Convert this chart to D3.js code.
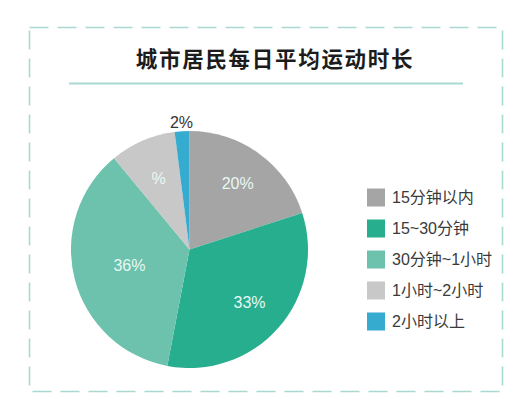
<!DOCTYPE html>
<html lang="zh">
<head>
    <meta charset="UTF-8">
    <title>城市居民每日平均运动时长</title>
    <script src="https://d3js.org/d3.v7.min.js"></script>
    <style>
        body { margin: 0; background: #fff; }
        text { font-family: "Liberation Sans", "Noto Sans CJK SC", sans-serif; }
    </style>
</head>
<body>
    <div id="chart"></div>
    <script>
        // data
        const title = "城市居民每日平均运动时长";
        const categories = ["15分钟以内", "15~30分钟", "30分钟~1小时", "1小时~2小时", "2小时以上"];
        const values = [20, 33, 36, 9, 2];
        const labels = ["20%", "33%", "36%", "%", "2%"];
        const colors = ["#a5a5a5", "#27ae8e", "#6cc2ac", "#c8c8c8", "#36abd0"];

        const W = 531, H = 415;
        const svg = d3.select("#chart").append("svg")
            .attr("width", W).attr("height", H);

        // dashed frame
        svg.append("rect")
            .attr("x", 29.5).attr("y", 27.5)
            .attr("width", 473).attr("height", 364)
            .attr("fill", "none")
            .attr("stroke", "#a9d9d1")
            .attr("stroke-width", 1.6)
            .attr("stroke-dasharray", "19 9");

        svg.append("text")
            .attr("x", 275).attr("y", 67)
            .attr("text-anchor", "middle")
            .style("font-family", "'Noto Sans CJK SC', sans-serif")
            .style("font-weight", "bold")
            .style("font-size", "21.5px")
            .style("letter-spacing", "1.7px")
            .attr("fill", "#1c1c1c")
            .text(title);

        svg.append("line")
            .attr("x1", 69).attr("x2", 463)
            .attr("y1", 83.5).attr("y2", 83.5)
            .attr("stroke", "#a9d9d1")
            .attr("stroke-width", 2);

        // pie
        const cx = 189.5, cy = 249.5, r = 118.5;
        const labelR = [82, 80, 62, 78, 128];   // label distance from centre, per slice
        const pie = d3.pie().sort(null).value(d => d)(values);
        const arc = d3.arc().innerRadius(0).outerRadius(r);

        const g = svg.append("g").attr("transform", `translate(${cx},${cy})`);
        g.selectAll("path").data(pie).join("path")
            .attr("d", arc)
            .attr("fill", (d, i) => colors[i]);

        g.selectAll("text.lbl").data(pie).join("text")
            .attr("class", "lbl")
            .attr("transform", (d, i) => {
                const p = d3.arc().innerRadius(labelR[i]).outerRadius(labelR[i]).centroid(d);
                return `translate(${p})`;
            })
            .attr("text-anchor", "middle")
            .attr("dy", "0.36em")
            .style("font-size", "16px")
            .attr("fill", (d, i) => labelR[i] > r ? "#333" : "#e8f8f3")
            .text((d, i) => labels[i]);

        // legend
        const ly = d3.scaleBand().domain(categories).range([182, 337]).paddingInner(0);
        const leg = svg.append("g").selectAll("g").data(categories).join("g")
            .attr("transform", d => `translate(367,${ly(d) + ly.bandwidth() / 2})`);
        leg.append("rect")
            .attr("x", 0).attr("y", -9)
            .attr("width", 18).attr("height", 18)
            .attr("fill", (d, i) => colors[i]);
        leg.append("text")
            .attr("x", 25).attr("dy", "0.36em")
            .style("font-size", "16px")
            .attr("fill", "#3a3a3a")
            .text(d => d);
    </script>
</body>
</html>
